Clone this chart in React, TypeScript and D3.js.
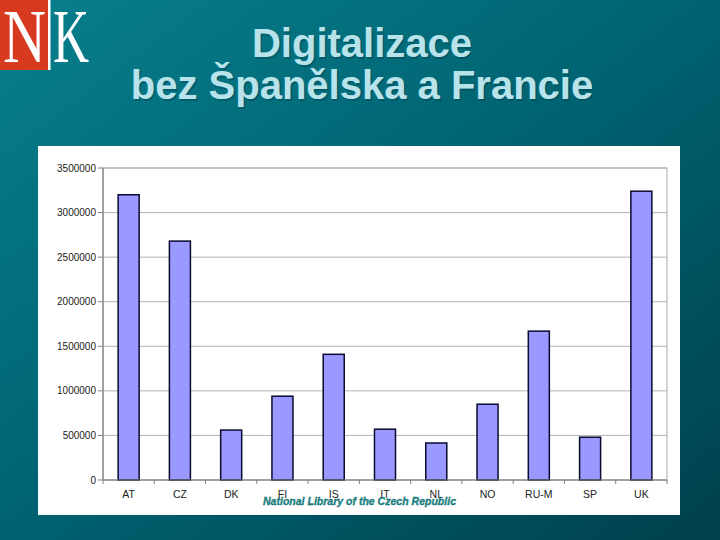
import React from "react";
import * as d3 from "d3";

const categories = ["AT", "CZ", "DK", "FI", "IS", "IT", "NL", "NO", "RU-M", "SP", "UK"];
const values = [3200000, 2680000, 560000, 940000, 1410000, 570000, 415000, 850000, 1670000, 480000, 3240000];
const yTicks = [0, 500000, 1000000, 1500000, 2000000, 2500000, 3000000, 3500000];
const titleLines = ["Digitalizace", "bez Španělska a Francie"];
const footer = "National Library of the Czech Republic";

export default function App() {
  const W = 720, H = 540;
  const left = 103, right = 667, top = 168, bottom = 480;
  const x = d3.scaleBand<string>().domain(categories).range([left, right]).paddingInner(0.59).paddingOuter(0.295);
  const xb = d3.scaleBand<string>().domain(categories).range([left, right]);
  const y = d3.scaleLinear().domain([0, 3500000]).range([bottom, top]);
  const font = "Arial, 'Liberation Sans', Helvetica, sans-serif";
  const serif = "'Liberation Serif', 'DejaVu Serif', serif";
  return (
    <svg width={W} height={H} style={{ position: "absolute", left: 0, top: 0 }} xmlns="http://www.w3.org/2000/svg">
      <defs>
        <linearGradient id="bg" x1="0" y1="0" x2="1" y2="1">
          <stop offset="0" stopColor="#087f8d" />
          <stop offset="0.5" stopColor="#006270" />
          <stop offset="1" stopColor="#00404c" />
        </linearGradient>
      </defs>
      <rect x={0} y={0} width={W} height={H} fill="url(#bg)" />
      {/* logo */}
      <rect x={0} y={0} width={48} height={70} fill="#d83a20" />
      <rect x={48} y={0} width={2.5} height={70} fill="#ffffff" />
      <text x={3} y={62} fontFamily={serif} fontSize={76} fill="#ffffff" textLength={43} lengthAdjust="spacingAndGlyphs">N</text>
      <text x={53} y={62} fontFamily={serif} fontSize={76} fill="#ffffff" textLength={36} lengthAdjust="spacingAndGlyphs">K</text>
      {/* title */}
      {titleLines.map((t, i) => (
        <g key={i}>
          <text x={362} y={57 + i * 42} textAnchor="middle" fontFamily={font} fontWeight="bold" fontSize={40} fill="#004a56" opacity={0.5} dx={1.5} dy={1.5}>{t}</text>
          <text x={362} y={57 + i * 42} textAnchor="middle" fontFamily={font} fontWeight="bold" fontSize={40} fill="#b9e3ea">{t}</text>
        </g>
      ))}
      {/* white panel */}
      <rect x={38} y={146} width={642} height={369} fill="#ffffff" />
      {/* plot border */}
      <rect x={left} y={top} width={right - left} height={bottom - top} fill="none" stroke="#a8a8a8" strokeWidth={1} />
      {/* gridlines */}
      {yTicks.map((t) => (
        <line key={t} x1={left} x2={right} y1={y(t)} y2={y(t)} stroke="#b4b4b4" strokeWidth={1} />
      ))}
      {/* y axis */}
      <line x1={left} x2={left} y1={top} y2={bottom} stroke="#808080" strokeWidth={1.2} />
      {yTicks.map((t) => (
        <g key={"yt" + t}>
          <line x1={left - 5} x2={left} y1={y(t)} y2={y(t)} stroke="#808080" />
          <text x={96} y={y(t) + 3.5} textAnchor="end" fontFamily={font} fontSize={10} fill="#222">{t}</text>
        </g>
      ))}
      {/* bars */}
      {categories.map((c, i) => (
        <rect key={c} x={x(c)!} y={y(values[i])} width={x.bandwidth()} height={bottom - y(values[i])} fill="#9999ff" stroke="#0a0a30" strokeWidth={1.5} />
      ))}
      {/* x axis */}
      <line x1={left} x2={right} y1={bottom} y2={bottom} stroke="#808080" strokeWidth={1.2} />
      {categories.map((c) => (
        <line key={"xt" + c} x1={xb(c)!} x2={xb(c)!} y1={bottom} y2={bottom + 4} stroke="#808080" />
      ))}
      <line x1={right} x2={right} y1={bottom} y2={bottom + 4} stroke="#808080" />
      {categories.map((c) => (
        <text key={"xl" + c} x={xb(c)! + xb.bandwidth() / 2} y={498} textAnchor="middle" fontFamily={font} fontSize={10.5} fill="#222">{c}</text>
      ))}
      {/* footer */}
      <text x={263} y={505} fontFamily={font} fontWeight="bold" fontStyle="italic" fontSize={10.5} fill="#1b8c8c" stroke="#0c5f60" strokeWidth={0.3} textLength={193} lengthAdjust="spacingAndGlyphs">{footer}</text>
    </svg>
  );
}
